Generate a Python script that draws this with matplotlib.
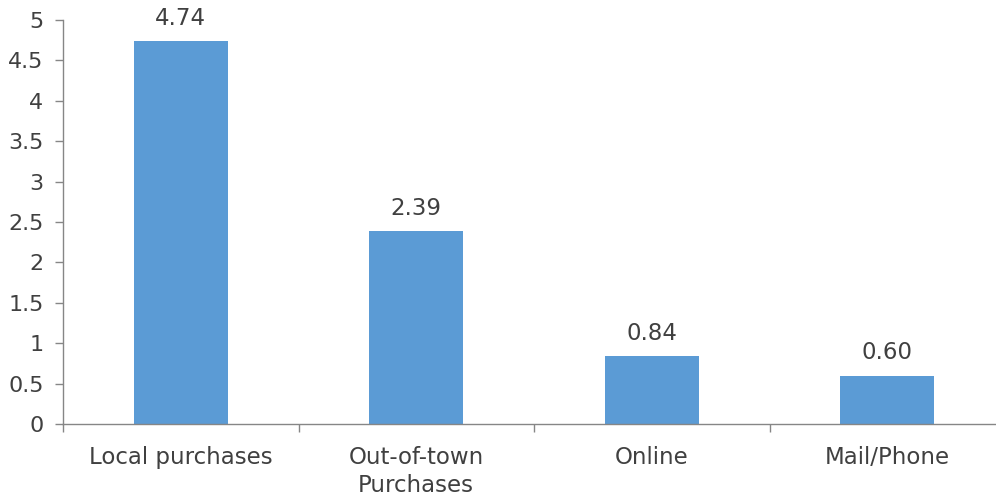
import matplotlib
matplotlib.use("Agg")
import matplotlib.pyplot as plt
import numpy as np

categories = ["Local purchases", "Out-of-town\nPurchases", "Online", "Mail/Phone"]
values = [4.74, 2.39, 0.84, 0.60]
labels = ["4.74", "2.39", "0.84", "0.60"]
yticks = [0, 0.5, 1, 1.5, 2, 2.5, 3, 3.5, 4, 4.5, 5]
yticklabels = ["0", "0.5", "1", "1.5", "2", "2.5", "3", "3.5", "4", "4.5", "5"]

plt.rcParams['font.family'] = ['DejaVu Sans']
W, H = 996, 495
fig = plt.figure(figsize=(W/100, H/100), dpi=100)
ax = fig.add_axes([63/W, (H-424)/H, (1005-63)/W, 404/H])

tc = "#404040"
fs = 16.5
x = np.arange(len(categories))
ax.bar(x, values, width=0.4, color="#5B9BD5", zorder=2)
for xi, v, lab in zip(x, values, labels):
    ax.annotate(lab, (xi, v), xytext=(0, 8), textcoords="offset points",
                ha="center", va="bottom", fontsize=fs, color=tc)

ax.set_xlim(-0.5, len(categories) - 0.5)
ax.set_ylim(0, 5)
ax.set_yticks(yticks)
ax.set_yticklabels(yticklabels, fontsize=16, color=tc)
ax.set_xticks(x)
ax.set_xticklabels(categories, fontsize=fs, color=tc, linespacing=1.3)
ax.tick_params(axis='x', which='major', length=0, pad=15.5)
ax.set_xticks(np.arange(-0.5, len(categories)), minor=True)
ax.tick_params(axis='x', which='minor', length=6, color="#868686", width=1)
ax.tick_params(axis='y', length=6, color="#868686", width=1, pad=8)
for s in ["top", "right"]:
    ax.spines[s].set_visible(False)
for s in ["left", "bottom"]:
    ax.spines[s].set_color("#868686")
    ax.spines[s].set_linewidth(1)

fig.savefig("out.png", dpi=100)
